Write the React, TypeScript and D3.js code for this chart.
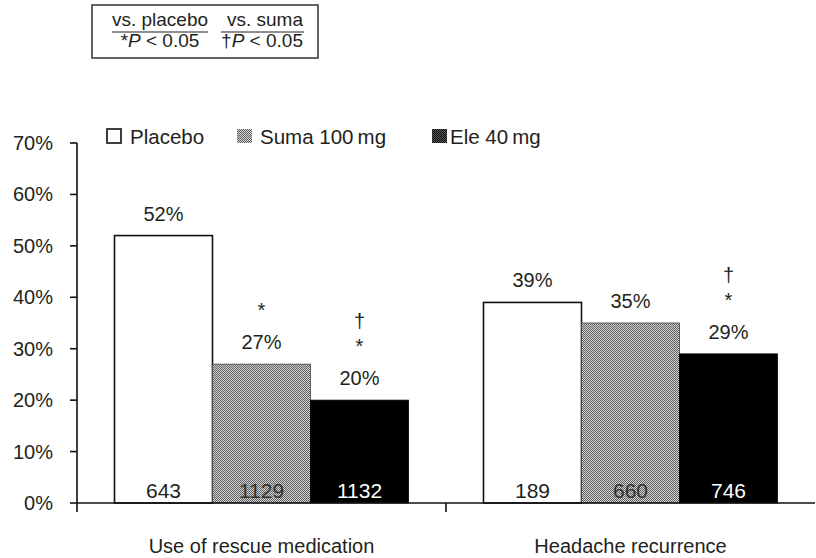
import React from "react";
import * as d3 from "d3";

// Outcome categories and treatment arms
const categories = ["Use of rescue medication", "Headache recurrence"];
const seriesNames = ["Placebo", "Suma 100\u2009mg", "Ele 40\u2009mg"];

// Percent of patients per arm, one value per category
const placeboValues = [52, 39];
const sumaValues = [27, 35];
const eleValues = [20, 29];

// Patients per arm (n), one value per category
const placeboCounts = [643, 189];
const sumaCounts = [1129, 660];
const eleCounts = [1132, 746];

// Significance flags: vs. placebo (*) and vs. suma (†)
const sumaVsPlacebo = [true, false];
const eleVsPlacebo = [true, true];
const eleVsSuma = [true, true];

const yTicks = [0, 10, 20, 30, 40, 50, 60, 70];

const W = 816;
const H = 558;
const FONT = "'Liberation Sans', Arial, Helvetica, sans-serif";
const INK = "#231f20";

type Bar = {
  cat: string;
  series: string;
  value: number;
  n: number;
  vsPlacebo: boolean;
  vsSuma: boolean;
};

const bars: Bar[] = [];
categories.forEach((cat, i) => {
  bars.push({ cat, series: seriesNames[0], value: placeboValues[i], n: placeboCounts[i], vsPlacebo: false, vsSuma: false });
  bars.push({ cat, series: seriesNames[1], value: sumaValues[i], n: sumaCounts[i], vsPlacebo: sumaVsPlacebo[i], vsSuma: false });
  bars.push({ cat, series: seriesNames[2], value: eleValues[i], n: eleCounts[i], vsPlacebo: eleVsPlacebo[i], vsSuma: eleVsSuma[i] });
});

const fills: Record<string, string> = {
  [seriesNames[0]]: "#ffffff",
  [seriesNames[1]]: "url(#dither)",
  [seriesNames[2]]: "#000000",
};
const countColors: Record<string, string> = {
  [seriesNames[0]]: INK,
  [seriesNames[1]]: "#333",
  [seriesNames[2]]: "#ffffff",
};

export default function App() {
  const y = d3.scaleLinear().domain([0, 70]).range([503, 143]);
  const x0 = d3.scaleBand<string>().domain(categories).range([77, 815]);
  const x1 = d3
    .scaleBand<string>()
    .domain(seriesNames)
    .range([x0.bandwidth() * 0.1016, x0.bandwidth() * 0.8984]);

  const axisX = x0.range()[0];
  const baseY = y(0);

  const legendItems = [
    { name: seriesNames[0], x: 107, fill: "#fff", stroke: "#111" },
    { name: seriesNames[1], x: 237, fill: "url(#dither)", stroke: "none" },
    { name: seriesNames[2], x: 432, fill: "url(#ditherDark)", stroke: "none" },
  ];

  return (
    <svg
      width={W}
      height={H}
      style={{ position: "absolute", left: 0, top: 0, background: "#fff" }}
      fontFamily={FONT}
    >
      <defs>
        <pattern id="dither" width={2} height={2} patternUnits="userSpaceOnUse">
          <rect width={2} height={2} fill="#d4d4d4" />
          <rect x={0} y={0} width={1} height={1} fill="#5e5e5e" />
          <rect x={1} y={1} width={1} height={1} fill="#5e5e5e" />
        </pattern>
        <pattern id="ditherDark" width={2} height={2} patternUnits="userSpaceOnUse">
          <rect width={2} height={2} fill="#555" />
          <rect x={0} y={0} width={1} height={1} fill="#111" />
          <rect x={1} y={1} width={1} height={1} fill="#111" />
        </pattern>
      </defs>

      {/* Significance key */}
      <g fill={INK} fontSize={19}>
        <rect x={92} y={5} width={226} height={53} fill="none" stroke="#333" strokeWidth={1.5} />
        <text x={160} y={26} textAnchor="middle">vs. placebo</text>
        <line x1={112} x2={208} y1={32} y2={32} stroke={INK} strokeWidth={1.2} />
        <text x={160} y={47} textAnchor="middle">
          *<tspan fontStyle="italic">P</tspan> &lt; 0.05
        </text>
        <text x={265} y={26} textAnchor="middle">vs. suma</text>
        <line x1={221} x2={304} y1={32} y2={32} stroke={INK} strokeWidth={1.2} />
        <text x={262} y={47} textAnchor="middle">
          {"\u2020"}<tspan fontStyle="italic">P</tspan> &lt; 0.05
        </text>
      </g>

      {/* Legend */}
      <g fontSize={20.5} fill={INK}>
        {legendItems.map((d) => (
          <g key={d.name}>
            <rect
              x={d.x}
              y={129}
              width={d.name === seriesNames[0] ? 14 : 15}
              height={14}
              fill={d.fill}
              stroke={d.stroke}
              strokeWidth={d.stroke === "none" ? 0 : 1.6}
            />
            <text x={d.x + (d.name === seriesNames[2] ? 18 : 23)} y={144}>
              {d.name}
            </text>
          </g>
        ))}
      </g>

      {/* Bars */}
      <g>
        {bars.map((b) => {
          const bx = (x0(b.cat) ?? 0) + (x1(b.series) ?? 0);
          const by = y(b.value);
          const bw = x1.bandwidth();
          const isPlacebo = b.series === seriesNames[0];
          return (
            <rect
              key={b.cat + b.series}
              x={bx}
              y={by}
              width={bw}
              height={baseY - by}
              fill={fills[b.series]}
              stroke={isPlacebo ? "#111" : b.series === seriesNames[1] ? "#444" : "#000"}
              strokeWidth={isPlacebo ? 1.6 : 0.8}
            />
          );
        })}
      </g>

      {/* Value labels, significance marks and counts */}
      <g fontSize={20} textAnchor="middle">
        {bars.map((b) => {
          const cx = (x0(b.cat) ?? 0) + (x1(b.series) ?? 0) + x1.bandwidth() / 2;
          const labelY = y(b.value) - 15;
          const starY = labelY - 32;
          const daggerY = starY - 25;
          return (
            <g key={"l" + b.cat + b.series}>
              <text x={cx} y={labelY} fill={INK}>{b.value}%</text>
              {b.vsPlacebo && (
                <text x={cx} y={starY} fill={INK}>*</text>
              )}
              {b.vsSuma && (
                <text x={cx} y={daggerY} fill={INK}>{"\u2020"}</text>
              )}
              <text x={cx} y={baseY - 5} fill={countColors[b.series]} fontSize={21}>
                {b.n}
              </text>
            </g>
          );
        })}
      </g>

      {/* Y axis */}
      <g>
        <line x1={axisX} x2={axisX} y1={y(70)} y2={baseY + 9} stroke="#111" strokeWidth={1.6} />
        {yTicks.map((t) => (
          <g key={t}>
            <line x1={axisX - 7} x2={axisX} y1={y(t)} y2={y(t)} stroke="#111" strokeWidth={1.6} />
            <text x={53} y={y(t) + 7} textAnchor="end" fontSize={20} fill={INK}>
              {t}%
            </text>
          </g>
        ))}
      </g>

      {/* X axis */}
      <g>
        <line x1={axisX} x2={x0.range()[1]} y1={baseY} y2={baseY} stroke="#111" strokeWidth={1.6} />
        {categories.slice(1).map((c) => (
          <line key={c} x1={x0(c)} x2={x0(c)} y1={baseY} y2={baseY + 9} stroke="#111" strokeWidth={1.6} />
        ))}
        {categories.map((c) => (
          <text
            key={c}
            x={(x0(c) ?? 0) + x0.bandwidth() / 2}
            y={553}
            textAnchor="middle"
            fontSize={20}
            fill={INK}
          >
            {c}
          </text>
        ))}
      </g>
    </svg>
  );
}
